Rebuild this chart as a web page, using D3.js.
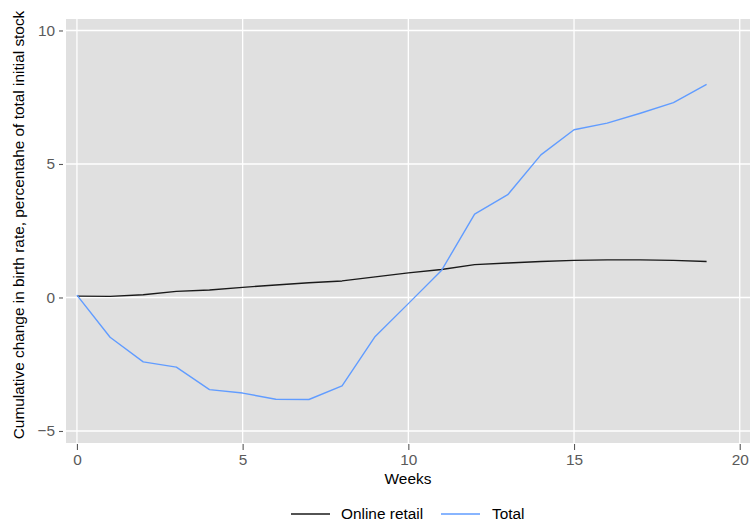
<!DOCTYPE html>
<html>
<head>
<meta charset="utf-8">
<script src="https://cdn.jsdelivr.net/npm/d3@7"></script>
<style>
  html, body { margin: 0; padding: 0; background: #ffffff; }
  svg { display: block; font-family: "Liberation Sans", Arial, sans-serif; }
</style>
</head>
<body>
<svg id="chart" width="750" height="522"></svg>
<script>
// Weekly observations
const weeks = d3.range(0, 20);
const onlineRetail = [0.05, 0.04, 0.10, 0.23, 0.28, 0.38, 0.47, 0.55, 0.62, 0.77, 0.92, 1.05, 1.23, 1.29, 1.35, 1.39, 1.41, 1.41, 1.39, 1.35];
const total = [0.09, -1.49, -2.41, -2.61, -3.45, -3.58, -3.81, -3.82, -3.31, -1.46, -0.23, 1.01, 3.12, 3.85, 5.34, 6.28, 6.53, 6.90, 7.30, 7.98];
const xTicks = [0, 5, 10, 15, 20];
const yTicks = [-5, 0, 5, 10];
const seriesNames = ["Online retail", "Total"];
const seriesColors = ["#1a1a1a", "#619CFF"];

const svg = d3.select("#chart");
const panel = { left: 66, right: 750, top: 19, bottom: 443 };
const fontSize = 15.4;

const x = d3.scaleLinear().domain([-0.33, 20.31]).range([panel.left, panel.right]);
const y = d3.scaleLinear().domain([-5.45, 10.43]).range([panel.bottom, panel.top]);

// Panel background
svg.append("rect")
  .attr("x", panel.left).attr("y", panel.top)
  .attr("width", panel.right - panel.left).attr("height", panel.bottom - panel.top)
  .attr("fill", "#e0e0e0");

// Grid lines
const grid = svg.append("g");
grid.selectAll("line.vx").data(xTicks).join("line")
  .attr("x1", d => x(d)).attr("x2", d => x(d))
  .attr("y1", panel.top).attr("y2", panel.bottom)
  .attr("stroke", "#ffffff").attr("stroke-width", 1.3);
grid.selectAll("line.hy").data(yTicks).join("line")
  .attr("x1", panel.left).attr("x2", panel.right)
  .attr("y1", d => y(d)).attr("y2", d => y(d))
  .attr("stroke", "#ffffff").attr("stroke-width", 1.3);

// Axes
const xAxis = svg.append("g")
  .attr("transform", `translate(0,${panel.bottom})`)
  .call(d3.axisBottom(x).tickValues(xTicks).tickSize(7).tickPadding(4).tickFormat(d3.format("d")));
const yAxis = svg.append("g")
  .attr("transform", `translate(${panel.left},0)`)
  .call(d3.axisLeft(y).tickValues(yTicks).tickSize(7).tickPadding(4).tickFormat(d3.format("d")));

[xAxis, yAxis].forEach(g => {
  g.select(".domain").remove();
  g.selectAll(".tick line").attr("stroke", "#5a5a5a").attr("stroke-width", 1.1);
  g.selectAll(".tick text").attr("fill", "#5a5a5a").attr("font-size", fontSize);
});
xAxis.selectAll(".tick line").attr("y1", 1);
yAxis.selectAll(".tick line").attr("x1", -3);

// Series lines
const line = d3.line().x((d, i) => x(weeks[i])).y(d => y(d));
[onlineRetail, total].forEach((vals, k) => {
  svg.append("path")
    .datum(vals)
    .attr("fill", "none")
    .attr("stroke", seriesColors[k])
    .attr("stroke-width", 1.4)
    .attr("stroke-linejoin", "round")
    .attr("d", line);
});

// Axis titles
svg.append("text")
  .attr("x", (panel.left + panel.right) / 2).attr("y", 484)
  .attr("text-anchor", "middle").attr("font-size", fontSize).attr("fill", "#000")
  .text("Weeks");
svg.append("text")
  .attr("transform", `translate(24,225) rotate(-90)`)
  .attr("text-anchor", "middle").attr("font-size", fontSize).attr("fill", "#000")
  .text("Cumulative change in birth rate, percentahe of total initial stock");

// Legend
const legendItems = [
  { name: seriesNames[0], color: seriesColors[0], x1: 291, x2: 330, tx: 341 },
  { name: seriesNames[1], color: seriesColors[1], x1: 441, x2: 480, tx: 492 }
];
const legend = svg.append("g");
legendItems.forEach(it => {
  legend.append("line")
    .attr("x1", it.x1).attr("x2", it.x2).attr("y1", 514).attr("y2", 514)
    .attr("stroke", it.color).attr("stroke-width", 1.4);
  legend.append("text")
    .attr("x", it.tx).attr("y", 519)
    .attr("font-size", fontSize).attr("fill", "#000")
    .text(it.name);
});
</script>
</body>
</html>
